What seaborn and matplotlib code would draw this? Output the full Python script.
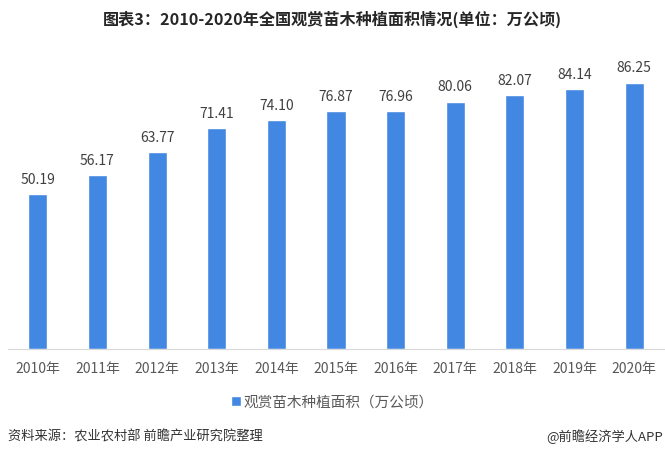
import seaborn as sns
import matplotlib.pyplot as plt
import pandas as pd

# 数据
years = ['2010年', '2011年', '2012年', '2013年', '2014年', '2015年',
         '2016年', '2017年', '2018年', '2019年', '2020年']
area = [50.19, 56.17, 63.77, 71.41, 74.10, 76.87, 76.96, 80.06, 82.07, 84.14, 86.25]
series_name = '观赏苗木种植面积（万公顷）'
title = '图表3：2010-2020年全国观赏苗木种植面积情况(单位：万公顷)'
source = '资料来源：农业农村部 前瞻产业研究院整理'
brand = '@前瞻经济学人APP'

sns.set_style('white')
plt.rcParams['font.family'] = ['Noto Sans CJK SC', 'DejaVu Sans']

df = pd.DataFrame({'year': years, 'area': area})

fig = plt.figure(figsize=(6.65, 4.56), dpi=100)
ax = fig.add_axes([0.012, 0.2325, 0.9865, 0.6775])

sns.barplot(data=df, x='year', y='area', color='#4287E1', width=0.32,
            saturation=1, label=series_name, ax=ax)

# 数值标签
ax.bar_label(ax.containers[0], fmt='{:.2f}', padding=6, fontsize=10, color='#404040')

ax.set_ylim(0, 100)
ax.set_xlim(-0.5, len(years) - 0.5)
ax.set_xlabel('')
ax.set_ylabel('')
ax.set_yticks([])
for side in ['top', 'right', 'left']:
    ax.spines[side].set_visible(False)
ax.spines['bottom'].set_color('#d9d9d9')
ax.tick_params(axis='x', length=0, pad=9, labelsize=10, labelcolor='#595959')

ax.legend(loc='center', bbox_to_anchor=(0.5, 1 - 403 / 456), bbox_transform=fig.transFigure,
          frameon=False, fontsize=10.5, handlelength=0.65, handleheight=0.65,
          handletextpad=0.2, labelcolor='#595959')

fig.text(0.5, 1 - 19 / 456, title, ha='center', va='center', fontsize=11.6,
         fontweight='bold', color='#262626')
fig.text(8 / 665, 1 - 437 / 456, source, ha='left', va='center', fontsize=9.5, color='#333333')
fig.text(663 / 665, 1 - 437 / 456, brand, ha='right', va='center', fontsize=9.5, color='#333333')

fig.savefig('out.png', dpi=100)
